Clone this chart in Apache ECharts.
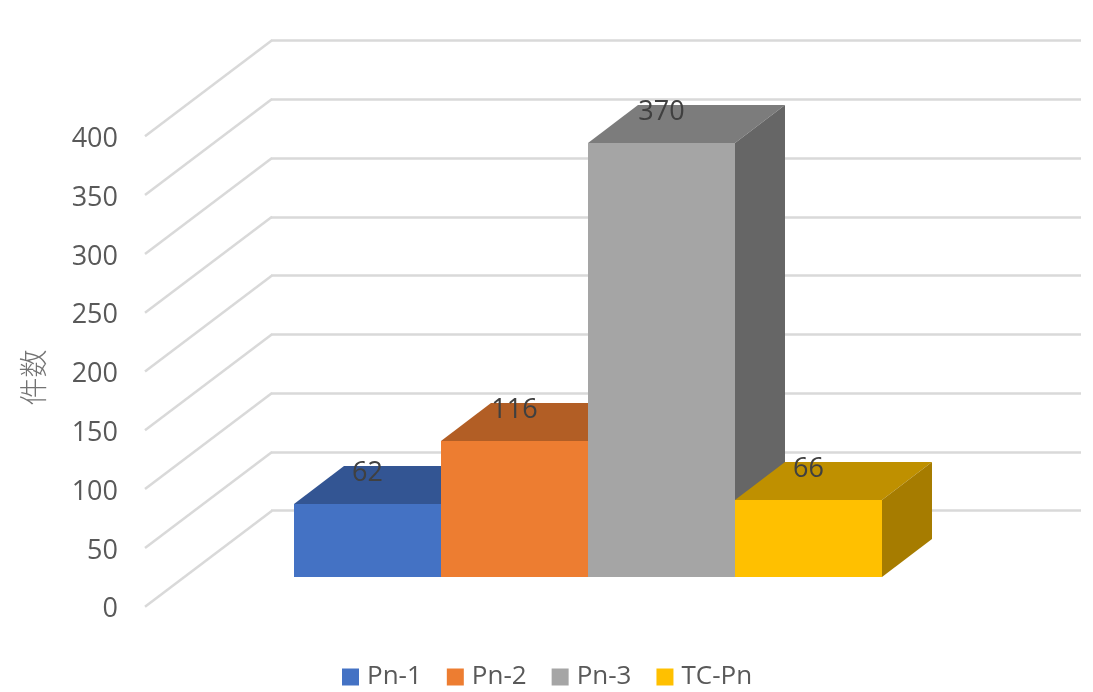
<!DOCTYPE html>
<html><head><meta charset="utf-8">
<style>html,body{margin:0;padding:0;background:#fff}#c{width:1093px;height:692px}</style>
<script src="https://cdn.jsdelivr.net/npm/echarts@6/dist/echarts.min.js"></script>
</head><body><div id="c"></div>
<script>
const categories = ['Pn-1','Pn-2','Pn-3','TC-Pn'];
const values = [62,116,370,66];
const yTicks = [0,50,100,150,200,250,300,350,400];
const yName = '件数';
const frontColors = ['#4472C4','#ED7D31','#A5A5A5','#FFC000'];
const topColors = ['#335593','#B25E25','#7C7C7C','#BF9000'];
const sideColors = ['#2C4A80','#9E5221','#666666','#A67C00'];

const FONT = '"Open Sans", sans-serif';
const BAR_DEPTH = [50,-38];
const WALL_DEPTH = [127,-96];
const LINE = '#D9D9D9';

function hiddenX(gridIndex, type, extra){
  return Object.assign({gridIndex, type, show:false}, extra);
}
const bars = categories.map((name,i)=>({
  name, type:'custom', xAxisIndex:2, yAxisIndex:2, z:5,
  coordinateSystem:'cartesian2d',
  itemStyle:{color:frontColors[i]},
  data:[[i,values[i]]],
  encode:{x:0,y:1},
  renderItem:(params,api)=>{
    const idx=api.value(0), v=api.value(1);
    const top=api.coord([idx,v]), base=api.coord([idx,0]);
    const w=api.size([1,0])[0];
    const l=Math.round(top[0]-w/2), r=Math.round(top[0]+w/2), t=Math.round(top[1]), b=Math.round(base[1]);
    const [dx,dy]=BAR_DEPTH;
    const poly=(points,fill)=>({type:'polygon',shape:{points},style:{fill}});
    return {type:'group',children:[
      poly([[l,t],[r,t],[r+dx,t+dy],[l+dx,t+dy]],topColors[idx]),
      poly([[r,t],[r+dx,t+dy],[r+dx,b+dy],[r,b]],sideColors[idx]),
      poly([[l,t],[r,t],[r,b],[l,b]],frontColors[idx]),
      {type:'text',z2:10,style:{text:String(v),x:top[0],y:t-31,align:'center',verticalAlign:'middle',
        font:'27px '+FONT,fill:'#404040'}}
    ]};
  }
}));

const wallDiagonals = {
  type:'custom', name:'grid', xAxisIndex:1, yAxisIndex:1, z:1, silent:true,
  coordinateSystem:'cartesian2d',
  data:yTicks.map(v=>[0,v]),
  encode:{x:0,y:1},
  renderItem:(params,api)=>{
    const p=api.coord([api.value(0),api.value(1)]);
    return {type:'line',shape:{x1:p[0],y1:p[1],x2:p[0]+WALL_DEPTH[0],y2:p[1]+WALL_DEPTH[1]},
      style:{stroke:LINE,lineWidth:2.5}};
  }
};

const chart = echarts.init(document.getElementById('c'),null,{renderer:'canvas'});
chart.setOption({
  animation:false,
  backgroundColor:'#fff',
  textStyle:{fontFamily:FONT},
  grid:[
    {left:271,right:12,top:40.7,height:470},
    {left:145,width:127,top:136.3,height:470.4},
    {left:294,width:588,top:107.3,height:470},
    {left:145,width:127,top:139.3,height:470.4}
  ],
  xAxis:[
    hiddenX(0,'value',{min:0,max:1}),
    hiddenX(1,'value',{min:0,max:1}),
    hiddenX(2,'category',{data:categories}),
    hiddenX(3,'value',{min:0,max:1})
  ],
  yAxis:[
    {gridIndex:0,type:'value',min:0,max:400,interval:50,
     axisLine:{show:false},axisTick:{show:false},axisLabel:{show:false},
     splitLine:{show:true,lineStyle:{color:LINE,width:2.5}}},
    {gridIndex:1,type:'value',min:0,max:400,interval:50,show:false,splitLine:{show:false}},
    {gridIndex:2,type:'value',min:0,max:400,interval:50,show:false,splitLine:{show:false}},
    {gridIndex:3,type:'value',min:0,max:400,interval:50,
     name:yName,nameLocation:'middle',nameRotate:90,nameGap:98,
     nameTextStyle:{fontFamily:'"Noto Sans CJK JP", sans-serif',fontSize:28,color:'#737373',fontWeight:300,padding:[0,6,0,0]},
     axisLine:{show:false},axisTick:{show:false},splitLine:{show:false},
     axisLabel:{margin:27,fontSize:27,color:'#595959',fontFamily:FONT}}
  ],
  legend:{
    data:categories,left:342,top:664,padding:0,itemWidth:17,itemHeight:17,itemGap:25,icon:'rect',
    textStyle:{fontSize:26,color:'#595959',fontFamily:FONT,padding:[0,0,0,3]},
    selectedMode:false
  },
  series:[wallDiagonals].concat(bars)
});
</script></body></html>
